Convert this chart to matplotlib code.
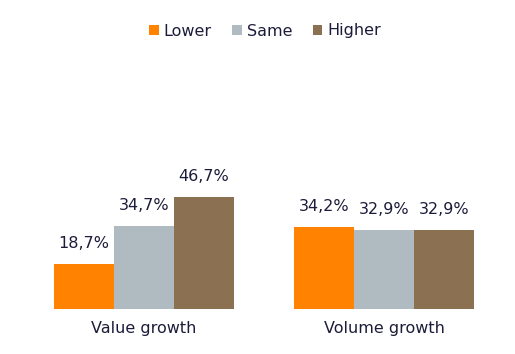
import numpy as np
import matplotlib
matplotlib.use("Agg")
import matplotlib.pyplot as plt

categories = ["Value growth", "Volume growth"]
series = ["Lower", "Same", "Higher"]
lower = [18.7, 34.2]
same = [34.7, 32.9]
higher = [46.7, 32.9]
colors = ["#FF8200", "#AFBBC0", "#8B7151"]
text_color = "#1C1C3A"

plt.rcParams["font.family"] = ["DejaVu Sans"]

fig = plt.figure(figsize=(5.15, 3.54), dpi=100)
ax = fig.add_axes([24 / 515, 45 / 354, 480 / 515, 144 / 354])

x = np.arange(len(categories))
width = 0.25
for i, (name, vals) in enumerate(zip(series, [lower, same, higher])):
    pos = x + (i - 1) * width
    bars = ax.bar(pos, vals, width, color=colors[i], label=name)
    for b, v in zip(bars, vals):
        ax.text(b.get_x() + b.get_width() / 2, v + 5.5, f"{v:.1f}%".replace(".", ","),
                ha="center", va="bottom", fontsize=11.5, color=text_color)

ax.set_xlim(-0.5, 1.5)
ax.set_ylim(0, 60)
ax.set_xticks(x)
ax.set_xticklabels(categories, fontsize=11.5, color=text_color)
ax.tick_params(axis="x", length=0, pad=9)
ax.set_yticks([])
for s in ax.spines.values():
    s.set_visible(False)

fig.legend(loc="center", bbox_to_anchor=(265 / 515, 1 - 31 / 354), ncol=3, frameon=False,
           fontsize=11.5, handlelength=0.6, handleheight=0.6, handletextpad=0.3,
           columnspacing=1.3, labelcolor=text_color)

fig.savefig("out.png", dpi=100)
